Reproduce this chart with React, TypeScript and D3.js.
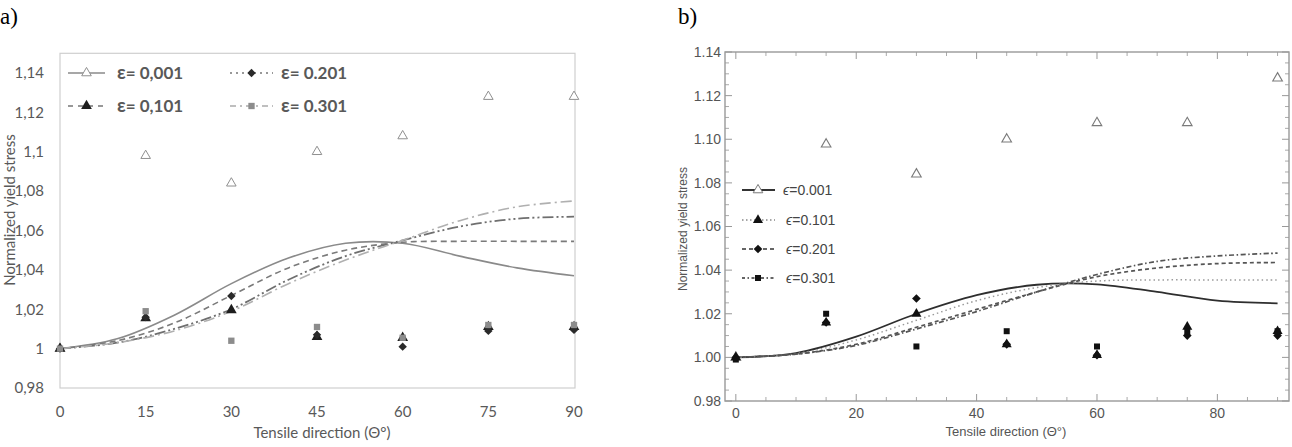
import React from 'react'
import * as d3 from 'd3'

// measured angles (deg)
const angles = [0, 15, 30, 45, 60, 75, 90]
// angles where the model curves were read
const curveAngles = [0, 10, 20, 30, 40, 50, 60, 70, 80, 90]
const strains = ['0,001', '0,101', '0.201', '0.301']
const strainsB = ['0.001', '0.101', '0.201', '0.301']

// panel a, experiment
const expA001 = [1.0, 1.098, 1.084, 1.1, 1.108, 1.128, 1.128]
const expA101 = [1.0, 1.0155, 1.0196, 1.006, 1.0055, 1.011, 1.011]
const expA201 = [1.0, 1.016, 1.0267, 1.007, 1.001, 1.009, 1.0095]
const expA301 = [1.0, 1.019, 1.004, 1.011, 1.0055, 1.012, 1.012]
// panel a, model
const modA001 = [1.0, 1.005, 1.017, 1.033, 1.046, 1.0535, 1.0535, 1.047, 1.041, 1.037]
const modA101 = [1.0, 1.004, 1.013, 1.027, 1.041, 1.05, 1.054, 1.0545, 1.0545, 1.0545]
const modA201 = [1.0, 1.003, 1.01, 1.02, 1.035, 1.047, 1.055, 1.062, 1.066, 1.067]
const modA301 = [1.0, 1.003, 1.009, 1.019, 1.033, 1.045, 1.055, 1.065, 1.072, 1.075]

// panel b, experiment
const expB001 = [1.0, 1.0977, 1.084, 1.1, 1.1075, 1.1075, 1.128]
const expB101 = [1.0, 1.016, 1.02, 1.006, 1.001, 1.014, 1.012]
const expB201 = [1.0, 1.016, 1.027, 1.006, 1.001, 1.01, 1.01]
const expB301 = [0.999, 1.02, 1.005, 1.012, 1.005, 1.012, 1.012]
// panel b, model
const modB001 = [1.0, 1.002, 1.0095, 1.02, 1.0285, 1.0333, 1.0335, 1.03, 1.026, 1.0248]
const modB101 = [1.0, 1.0017, 1.008, 1.017, 1.026, 1.032, 1.035, 1.0355, 1.0355, 1.0355]
const modB201 = [1.0, 1.0015, 1.006, 1.0138, 1.022, 1.03, 1.037, 1.041, 1.043, 1.0435]
const modB301 = [1.0, 1.0015, 1.0055, 1.013, 1.021, 1.03, 1.038, 1.044, 1.0465, 1.0478]

const ticksA = [0.98, 1.0, 1.02, 1.04, 1.06, 1.08, 1.1, 1.12, 1.14]
const xTicksA = [0, 15, 30, 45, 60, 75, 90]
const xTicksB = [0, 20, 40, 60, 80]

const fontA = 'Lato, "Open Sans", sans-serif'
const fontB = '"Liberation Sans", Arial, sans-serif'

const sym = (t: any, s: number) => d3.symbol().type(t).size(s)() as string

const PanelA = () => {
  const x = d3.scaleLinear().domain([0, 90]).range([60, 574])
  const y = d3.scaleLinear().domain([0.98, 1.14]).range([388, 73])
  const line = d3.line<number>().x((_, i) => x(curveAngles[i])).y(d => y(d)).curve(d3.curveCatmullRom.alpha(0.5))
  const fmt = (v: number) => {
    const s = v === 1 ? '1' : v === 1.1 ? '1,1' : v.toFixed(2)
    return s.replace('.', ',')
  }
  const series = [
    { mod: modA001, exp: expA001, stroke: '#8a8a8a', dash: '', w: 1.6, sym: d3.symbolTriangle, fill: 'white', mstroke: '#909090', size: 40 },
    { mod: modA101, exp: expA101, stroke: '#7a7a7a', dash: '6,4', w: 1.6, sym: d3.symbolTriangle, fill: '#1e1e1e', mstroke: 'none', size: 50 },
    { mod: modA201, exp: expA201, stroke: '#6f6f6f', dash: '11,3,2,3,2,3', w: 1.8, sym: d3.symbolDiamond2, fill: '#2a2a2a', mstroke: 'none', size: 45 },
    { mod: modA301, exp: expA301, stroke: '#b0b0b0', dash: '11,4,2,4', w: 1.6, sym: d3.symbolSquare, fill: '#8c8c8c', mstroke: 'none', size: 40 },
  ]
  const legendPos = [[68, 73], [68, 106], [230, 73], [230, 106]]
  const legendDash = ['', '5,5', '2,4', '6,4,2,4']
  return (
    <g>
      <text x={0} y={24} fontFamily='"Liberation Serif", serif' fontSize={23}>a)</text>
      <rect x={x(0)} y={y(1.15)} width={x(90) - x(0) + 1} height={y(0.98) - y(1.15)} fill="none" stroke="#cfcfcf" strokeWidth={1.2} />
      {ticksA.map(t => (
        <text key={t} x={44} y={y(t)} dy="0.35em" textAnchor="end" fontFamily={fontA} fontSize={15} fill="#595959">{fmt(t)}</text>
      ))}
      {xTicksA.map(t => (
        <text key={t} x={x(t)} y={412} dy="0.35em" textAnchor="middle" fontFamily={fontA} fontSize={15} fill="#595959">{t}</text>
      ))}
      <text x={322} y={438} textAnchor="middle" fontFamily={fontA} fontSize={15} fill="#595959">Tensile direction (Θ°)</text>
      <text transform="translate(15,210) rotate(-90)" textAnchor="middle" fontFamily={fontA} fontSize={15} fill="#595959">Normalized yield stress</text>
      {series.map((s, i) => (
        <path key={i} d={line(s.mod) as string} fill="none" stroke={s.stroke} strokeWidth={s.w} strokeDasharray={s.dash} />
      ))}
      {series.map((s, i) => (
        <g key={i}>
          {s.exp.map((v, j) => (
            <path key={j} transform={`translate(${x(angles[j])},${y(v)})`} d={sym(s.sym, s.size)} fill={s.fill} stroke={s.mstroke} strokeWidth={1} />
          ))}
        </g>
      ))}
      {series.map((s, i) => {
        const [lx, ly] = legendPos[i]
        const w = i < 2 ? 37 : 43
        return (
          <g key={i}>
            <line x1={lx} x2={lx + w} y1={ly} y2={ly} stroke={i === 0 ? '#8a8a8a' : i === 3 ? '#aaaaaa' : '#777'} strokeWidth={1.5} strokeDasharray={legendDash[i]} />
            <path transform={`translate(${lx + w / 2},${ly})`} d={sym(s.sym, s.size)} fill={s.fill} stroke={s.mstroke} />
            <text x={lx + w + (i < 2 ? 12 : 8)} y={ly} dy="0.35em" fontFamily={fontA} fontWeight={700} fontSize={17} fill="#595959">
              <tspan fontSize={19}>ε</tspan>= {strains[i]}
            </text>
          </g>
        )
      })}
    </g>
  )
}

const PanelB = () => {
  const x = d3.scaleLinear().domain([-1.8, 91.9]).range([725, 1289])
  const y = d3.scaleLinear().domain([0.98, 1.14]).range([401, 52])
  const line = d3.line<number>().x((_, i) => x(curveAngles[i])).y(d => y(d)).curve(d3.curveCatmullRom.alpha(0.5))
  const xMinor = d3.range(0, 91, 5).filter(v => v % 20 !== 0)
  const yMajor = d3.range(0, 9).map(i => 0.98 + i * 0.02)
  const yMinor = d3.range(0, 33).map(i => 0.98 + i * 0.005).filter((_, i) => i % 4 !== 0)
  const [x0, x1, y0, y1] = [x.range()[0], x.range()[1], y.range()[0], y.range()[1]]
  const series = [
    { mod: modB001, exp: expB001, stroke: '#2e2e2e', dash: '', w: 1.8, sym: d3.symbolTriangle, fill: 'white', mstroke: '#7a7a7a', size: 40 },
    { mod: modB101, exp: expB101, stroke: '#9a9a9a', dash: '1.5,3', w: 1.5, sym: d3.symbolTriangle, fill: '#111', mstroke: 'none', size: 44 },
    { mod: modB201, exp: expB201, stroke: '#555', dash: '4,3', w: 1.7, sym: d3.symbolDiamond2, fill: '#111', mstroke: 'none', size: 48 },
    { mod: modB301, exp: expB301, stroke: '#555', dash: '5,2.5,1.5,2.5', w: 1.7, sym: d3.symbolSquare, fill: '#111', mstroke: 'none', size: 36 },
  ]
  const legendY = [190, 220, 249, 278]
  const legendDash = ['', '1.5,2.5', '4,3', '3,2.5,1.5,2.5']
  return (
    <g>
      <text x={678} y={24} fontFamily='"Liberation Serif", serif' fontSize={23}>b)</text>
      {xTicksB.map(t => (
        <g key={t}>
          <line x1={x(t)} x2={x(t)} y1={y0} y2={y0 - 7} stroke="#999" />
          <line x1={x(t)} x2={x(t)} y1={y1} y2={y1 + 7} stroke="#999" />
          <text x={x(t)} y={413} dy="0.35em" textAnchor="middle" fontFamily={fontB} fontSize={14} fill="#555">{t}</text>
        </g>
      ))}
      {xMinor.map(t => (
        <g key={t}>
          <line x1={x(t)} x2={x(t)} y1={y0} y2={y0 - 4} stroke="#aaa" />
          <line x1={x(t)} x2={x(t)} y1={y1} y2={y1 + 4} stroke="#aaa" />
        </g>
      ))}
      {yMajor.map(t => (
        <g key={t}>
          <line x1={x0} x2={x0 + 7} y1={y(t)} y2={y(t)} stroke="#999" />
          <line x1={x1} x2={x1 - 7} y1={y(t)} y2={y(t)} stroke="#999" />
          <text x={721} y={y(t)} dy="0.35em" textAnchor="end" fontFamily={fontB} fontSize={14} fill="#555">{t.toFixed(2)}</text>
        </g>
      ))}
      {yMinor.map(t => (
        <g key={t}>
          <line x1={x0} x2={x0 + 4} y1={y(t)} y2={y(t)} stroke="#aaa" />
          <line x1={x1} x2={x1 - 4} y1={y(t)} y2={y(t)} stroke="#aaa" />
        </g>
      ))}
      <rect x={x0} y={y1} width={x1 - x0} height={y0 - y1} fill="none" stroke="#999" strokeWidth={1.4} />
      <text x={1006} y={436} textAnchor="middle" fontFamily={fontB} fontSize={13} fill="#555">Tensile direction (Θ°)</text>
      <text transform="translate(687,229) rotate(-90)" textAnchor="middle" fontFamily={fontB} fontSize={12} fill="#555">Normalized yield stress</text>
      {series.map((s, i) => (
        <path key={i} d={line(s.mod) as string} fill="none" stroke={s.stroke} strokeWidth={s.w} strokeDasharray={s.dash} />
      ))}
      {series.map((s, i) => (
        <g key={i}>
          {s.exp.map((v, j) => (
            <path key={j} transform={`translate(${x(angles[j])},${y(v)})`} d={sym(s.sym, s.size)} fill={s.fill} stroke={s.mstroke} strokeWidth={1.1} />
          ))}
        </g>
      ))}
      {series.map((s, i) => (
        <g key={i}>
          <line x1={742} x2={775} y1={legendY[i]} y2={legendY[i]} stroke={i === 1 ? '#888' : '#333'} strokeWidth={i === 0 ? 2 : 1.5} strokeDasharray={legendDash[i]} />
          <path transform={`translate(${758},${legendY[i]})`} d={sym(s.sym, s.size)} fill={s.fill} stroke={s.mstroke} />
          <text x={i === 0 ? 783 : 786} y={legendY[i]} dy="0.35em" fontFamily={fontB} fontSize={14} fill="#444">
            <tspan fontStyle="italic">ϵ</tspan>={strainsB[i]}
          </text>
        </g>
      ))}
    </g>
  )
}

export default function App() {
  return (
    <svg width={1292} height={447} style={{ position: 'absolute', left: 0, top: 0, background: 'white' }}>
      <PanelA />
      <PanelB />
    </svg>
  )
}
